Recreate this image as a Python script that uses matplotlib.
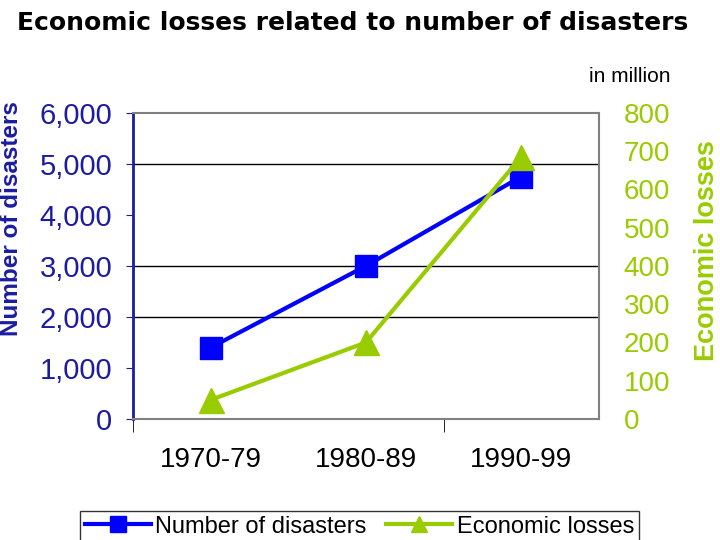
import matplotlib.pyplot as plt
import numpy as np

plt.rcParams['font.family'] = ['Liberation Sans', 'DejaVu Sans']

decades = ['1970-79', '1980-89', '1990-99']
disasters = [1400, 3000, 4750]
losses = [50, 200, 685]   # in million

blue = '#0000ff'
navy = '#1c1ca0'
green = '#99cc00'

fig = plt.figure(figsize=(7.2, 5.4), dpi=100)
ax = fig.add_axes([0.1847, 0.224, 0.647, 0.567])
x = np.arange(len(decades))

l1, = ax.plot(x, disasters, color=blue, lw=3, marker='s', ms=16, label='Number of disasters')
ax.set_xlim(-0.5, 2.5)
ax.set_ylim(0, 6000)
ax.set_yticks(np.arange(0, 6001, 1000))
ax.set_yticklabels(['{:,}'.format(v) for v in range(0, 6001, 1000)], fontsize=21, color=navy)
ax.tick_params(axis='y', length=5, color=navy, pad=10)
for g in [2000, 3000, 5000]:
    ax.axhline(g, color='black', lw=1, zorder=0)

ax.set_xticks(x)
ax.set_xticklabels(decades, fontsize=20)
ax.tick_params(axis='x', length=0, pad=20)
ax.set_xticks([-0.5, 1.5], minor=True)
ax.tick_params(axis='x', which='minor', length=9, color='black')

for s in ['top', 'right', 'bottom']:
    ax.spines[s].set_color('#808080')
    ax.spines[s].set_linewidth(1.5)
ax.spines['left'].set_color(navy)
ax.spines['left'].set_linewidth(2)

ax.set_ylabel('Number of disasters', fontsize=17.5, fontweight='bold', color=navy)
ax.yaxis.set_label_coords(-0.236, 0.655)

ax2 = ax.twinx()
l2, = ax2.plot(x, losses, color=green, lw=3, marker='^', ms=18, label='Economic losses')
ax2.set_ylim(0, 800)
ax2.set_yticks(np.arange(0, 801, 100))
ax2.set_yticklabels([str(v) for v in range(0, 801, 100)], fontsize=20, color=green)
ax2.tick_params(axis='y', length=0, pad=18)
for s in ax2.spines.values():
    s.set_visible(False)
ax2.set_ylabel('Economic losses', fontsize=19.5, fontweight='bold', color=green)
ax2.yaxis.set_label_coords(1.204, 0.549)

fig.text(0.49, 0.958, 'Economic losses related to number of disasters',
         ha='center', va='center', fontsize=18, fontweight='bold', family='DejaVu Sans')
fig.text(0.875, 0.859, 'in million', ha='center', va='center', fontsize=15)

leg = fig.legend([l1, l2], ['Number of disasters', 'Economic losses'],
                 loc='upper center', bbox_to_anchor=(0.499, 0.054), ncol=2,
                 fontsize=17, frameon=True, fancybox=False, edgecolor='black',
                 handlelength=2.8, columnspacing=0.8, handletextpad=0.2,
                 borderpad=0.2, borderaxespad=0)
leg.get_frame().set_linewidth(1)
for h in leg.legend_handles:
    h.set_markersize(12)

fig.savefig('out.png', dpi=100)
